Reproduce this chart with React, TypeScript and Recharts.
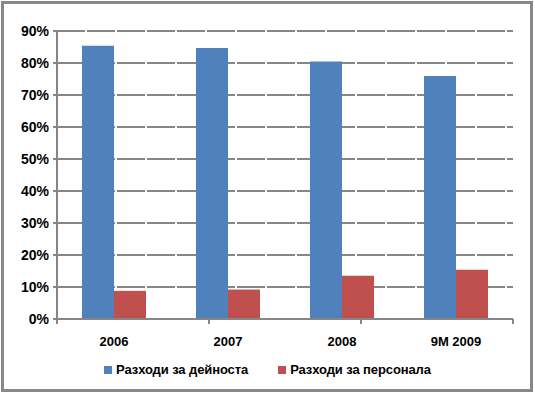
import React from "react";
import { BarChart, Bar, XAxis, YAxis, CartesianGrid, Legend } from "recharts";

const categories = ["2006", "2007", "2008", "9M 2009"];
const activityCosts = [0.854, 0.847, 0.805, 0.759];
const staffCosts = [0.088, 0.092, 0.135, 0.154];
const seriesNames = ["Разходи за дейноста", "Разходи за персонала"];
const yTicks = [0, 0.1, 0.2, 0.3, 0.4, 0.5, 0.6, 0.7, 0.8, 0.9];
const boundaryTicks = [0, 1, 2, 3, 4];

const data = categories.map((c, i) => ({
  name: c,
  a: activityCosts[i],
  b: staffCosts[i],
}));

const FONT = "Arial, 'Liberation Sans', sans-serif";
const GRAY = "#868686";
const BLUE = "#4F81BD";
const RED = "#C0504D";

const LegendContent = (props: any) => {
  const { payload } = props;
  return (
    <div style={{ display: "flex", justifyContent: "center", gap: 30, fontFamily: FONT }}>
      {(payload || []).map((p: any) => (
        <div key={p.value} style={{ display: "flex", alignItems: "center" }}>
          <span style={{ display: "inline-block", width: 8, height: 8, background: p.color, marginRight: 4 }} />
          <span style={{ fontSize: 13, fontWeight: "bold", color: "#000", letterSpacing: -0.1 }}>{p.value}</span>
        </div>
      ))}
    </div>
  );
};

export default function App() {
  return (
    <div style={{ position: "absolute", left: 0, top: 0, width: 535, height: 394, background: "#fff" }}>
      <div
        style={{
          position: "absolute",
          left: 1,
          top: 1,
          width: 532,
          height: 391,
          border: "3px solid #888",
          boxSizing: "border-box",
        }}
      />
      <div style={{ position: "absolute", left: 0, top: 0 }}>
        <BarChart
          width={535}
          height={394}
          data={data}
          margin={{ top: 31, right: 22, left: 0, bottom: 73 }}
          barGap={0}
          barSize={32}
        >
          <CartesianGrid vertical={false} stroke={GRAY} strokeWidth={2} strokeDasharray="28 2" />
          <XAxis
            xAxisId="bounds"
            type="number"
            domain={[0, 4]}
            ticks={boundaryTicks}
            height={1}
            axisLine={{ stroke: GRAY, strokeWidth: 2 }}
            tickLine={{ stroke: GRAY, strokeWidth: 2 }}
            tickSize={5}
            tickFormatter={() => ""}
            allowDataOverflow
          />
          <XAxis
            xAxisId="main"
            dataKey="name"
            height={1}
            axisLine={false}
            tickLine={false}
            tickMargin={11}
            tick={{ fill: "#000", fontSize: 13, fontWeight: "bold", fontFamily: FONT }}
          />
          <YAxis
            width={57}
            domain={[0, 0.9]}
            ticks={yTicks}
            interval={0}
            tickFormatter={(v: number) => `${Math.round(v * 100)}%`}
            axisLine={{ stroke: GRAY, strokeWidth: 2 }}
            tickLine={{ stroke: GRAY, strokeWidth: 2 }}
            tickSize={4}
            tickMargin={4}
            tick={{ fill: "#000", fontSize: 14, fontWeight: "bold", fontFamily: FONT }}
          />
          <Legend
            verticalAlign="middle"
            layout="horizontal"
            align="center"
            content={<LegendContent />}
            wrapperStyle={{ top: 362, left: 0, width: 535 }}
          />
          <Bar xAxisId="main" dataKey="a" name={seriesNames[0]} fill={BLUE} isAnimationActive={false} />
          <Bar xAxisId="main" dataKey="b" name={seriesNames[1]} fill={RED} isAnimationActive={false} />
        </BarChart>
      </div>
    </div>
  );
}
